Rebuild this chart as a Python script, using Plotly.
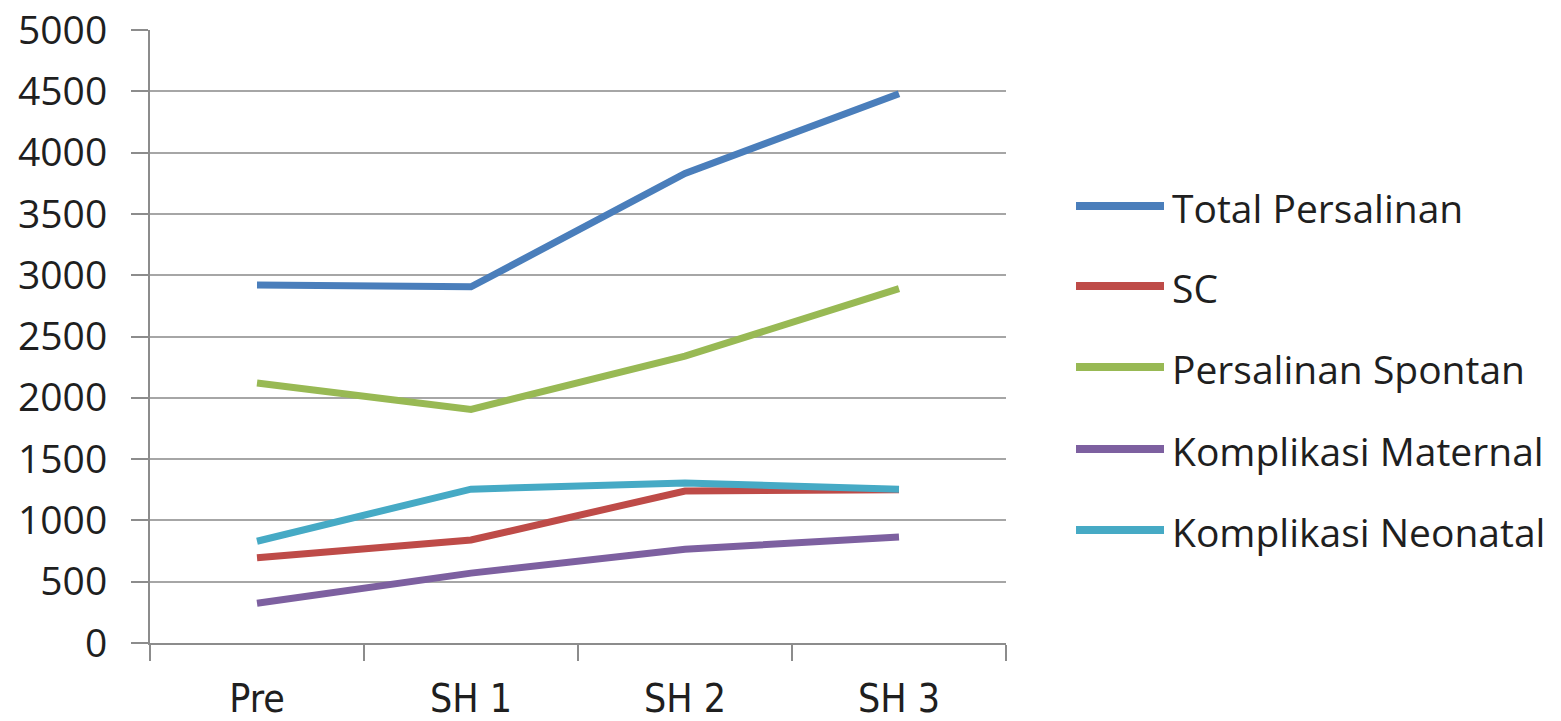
import plotly.graph_objects as go

categories = ["Pre", "SH 1", "SH 2", "SH 3"]
total_persalinan = [2920, 2905, 3830, 4480]
sc = [695, 840, 1240, 1250]
persalinan_spontan = [2120, 1905, 2340, 2890]
komplikasi_maternal = [325, 570, 765, 865]
komplikasi_neonatal = [830, 1255, 1305, 1255]

series_names = ["Total Persalinan", "SC", "Persalinan Spontan",
                "Komplikasi Maternal", "Komplikasi Neonatal"]
series_values = [total_persalinan, sc, persalinan_spontan,
                 komplikasi_maternal, komplikasi_neonatal]
series_colors = ["#4a7ebb", "#be4b48", "#98b954", "#7d60a0", "#46aac5"]

W, H = 1561, 721
L, R, T, B = 150, 555, 30, 78
plot_w = W - L - R
plot_h = H - T - B


def px_x(p):
    return (p - L) / plot_w


def px_y(p):
    return (H - B - p) / plot_h


fig = go.Figure()
for name, vals, color in zip(series_names, series_values, series_colors):
    fig.add_trace(go.Scatter(
        x=categories, y=vals, name=name, mode="lines",
        line=dict(color=color, width=7), showlegend=False,
    ))

# manual legend (long sample lines like the original)
legend_y_px = [206, 286, 367, 449, 530]
shapes, annotations = [], []
for name, color, ypx in zip(series_names, series_colors, legend_y_px):
    shapes.append(dict(type="line", xref="paper", yref="paper",
                       x0=px_x(1076), x1=px_x(1164), y0=px_y(ypx), y1=px_y(ypx),
                       line=dict(color=color, width=8)))
    annotations.append(dict(xref="paper", yref="paper", x=px_x(1170), y=px_y(ypx + 1),
                            xanchor="left", yanchor="middle", showarrow=False,
                            text=name,
                            font=dict(size=39, family="Open Sans, sans-serif", color="#1f1f1f")))

fig.update_layout(
    width=W, height=H,
    margin=dict(l=L, r=R, t=T, b=B, autoexpand=False),
    paper_bgcolor="white", plot_bgcolor="white",
    font=dict(family="Open Sans, Liberation Sans, sans-serif", color="#1f1f1f"),
    showlegend=False,
    shapes=shapes, annotations=annotations,
)
fig.update_xaxes(
    type="category", range=[-0.5, 3.5], automargin=False,
    showline=True, linecolor="#8c8c8c", linewidth=2,
    ticks="outside", tickson="boundaries", ticklen=16, tickcolor="#8c8c8c", tickwidth=2,
    showgrid=False,
    tickfont=dict(size=39, family="Liberation Sans Narrow, DejaVu Sans Condensed, Roboto Condensed, Liberation Sans, sans-serif",
                  color="#1f1f1f"),
    ticklabelstandoff=20,
)
fig.update_yaxes(
    range=[0, 5000], dtick=500, automargin=False,
    showline=True, linecolor="#8c8c8c", linewidth=2,
    ticks="outside", ticklen=17, tickcolor="#8c8c8c", tickwidth=2,
    showgrid=True, gridcolor="#a6a6a6", gridwidth=2,
    zeroline=False,
    tickfont=dict(size=39, family="Open Sans, sans-serif", color="#1f1f1f"),
    ticklabelstandoff=16,
)

fig.write_html("out.html")
